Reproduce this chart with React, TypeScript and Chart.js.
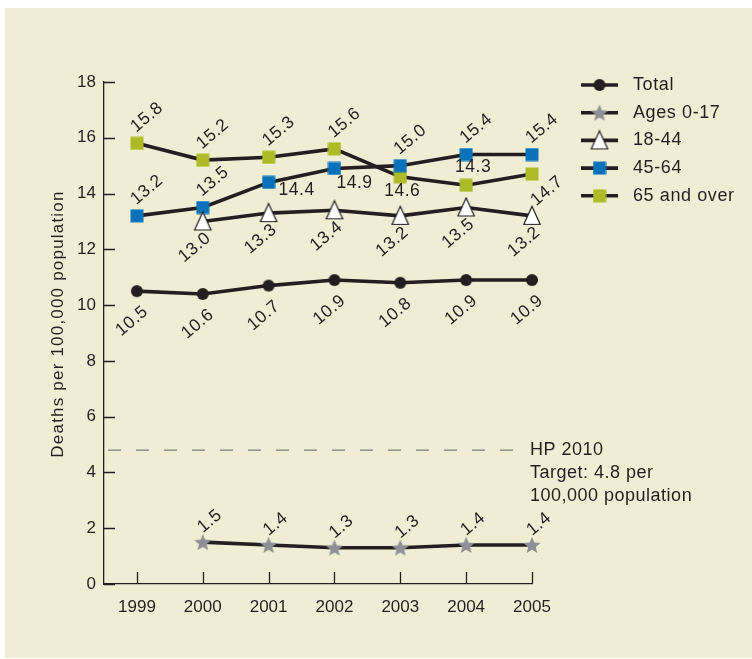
import React, { useEffect, useRef } from 'react';
import { Chart, registerables } from 'chart.js';

Chart.register(...registerables);

// ---------- data ----------
const YEARS = [1999, 2000, 2001, 2002, 2003, 2004, 2005];
const TOTAL = [10.5, 10.4, 10.7, 10.9, 10.8, 10.9, 10.9];
const TOTAL_LABELS = ['10.5', '10.6', '10.7', '10.9', '10.8', '10.9', '10.9'];
const AGES_0_17 = [null, 1.5, 1.4, 1.3, 1.3, 1.4, 1.4];
const AGES_18_44 = [null, 13.0, 13.3, 13.4, 13.2, 13.5, 13.2];
const AGES_45_64 = [13.2, 13.5, 14.4, 14.9, 15.0, 15.4, 15.4];
const AGES_65_OVER = [15.8, 15.2, 15.3, 15.6, 14.6, 14.3, 14.7];
const SERIES_NAMES = ['Total', 'Ages 0-17', '18-44', '45-64', '65 and over'];
const Y_TICKS = [0, 2, 4, 6, 8, 10, 12, 14, 16, 18];
const HP_TARGET = 4.8;
const HP_TEXT = ['HP 2010', 'Target: 4.8 per', '100,000 population'];
const Y_TITLE = 'Deaths per 100,000 population';

// ---------- styles ----------
const INK = '#231f20';
const BLUE = '#0a72ba';
const GREEN = '#acbb27';
const STAR_GRAY = '#8e9095';
const PANEL = '#efeed5';
const FONT = '"Liberation Sans", Arial, Helvetica, sans-serif';

function makeCanvas(w: number, h: number, draw: (c: CanvasRenderingContext2D) => void) {
  const c = document.createElement('canvas');
  c.width = w;
  c.height = h;
  const ctx = c.getContext('2d')!;
  draw(ctx);
  return c;
}

const circleImg = makeCanvas(14, 14, (c) => {
  c.fillStyle = INK;
  c.beginPath();
  c.arc(7, 7, 6, 0, Math.PI * 2);
  c.fill();
});
const starImg = makeCanvas(20, 20, (c) => {
  c.fillStyle = STAR_GRAY;
  c.beginPath();
  for (let i = 0; i < 10; i++) {
    const r = i % 2 === 0 ? 9 : 4;
    const a = -Math.PI / 2 + (i * Math.PI) / 5;
    const x = 10 + r * Math.cos(a);
    const y = 10.8 + r * Math.sin(a);
    if (i === 0) c.moveTo(x, y);
    else c.lineTo(x, y);
  }
  c.closePath();
  c.fill();
});
const triImg = makeCanvas(20, 22, (c) => {
  c.fillStyle = '#ffffff';
  c.strokeStyle = INK;
  c.lineWidth = 1.2;
  c.beginPath();
  c.moveTo(10, 1.5);
  c.lineTo(18.2, 19.5);
  c.lineTo(1.8, 19.5);
  c.closePath();
  c.fill();
  c.stroke();
});
const blueImg = makeCanvas(14, 14, (c) => {
  c.fillStyle = BLUE;
  c.fillRect(0.5, 0.5, 13, 13);
});
const greenImg = makeCanvas(14, 14, (c) => {
  c.fillStyle = GREEN;
  c.fillRect(0.5, 0.5, 13, 13);
});
const MARKERS = [circleImg, starImg, triImg, blueImg, greenImg];

// label placement per series: [dx, dy, rotated]
type Place = [number, number, boolean];
const ABOVE: Place = [10, -26, true];
const BELOW_TOTAL: Place = [-5, 30, true];
const BELOW_TRI: Place = [-8, 26, true];
const ABOVE_STAR: Place = [7, -21, true];
const LABEL_PLACES: Place[][] = [
  YEARS.map(() => BELOW_TOTAL),
  YEARS.map(() => ABOVE_STAR),
  YEARS.map(() => BELOW_TRI),
  [ABOVE, ABOVE, [28, 8, false], [20, 15, false], ABOVE, ABOVE, ABOVE],
  [ABOVE, ABOVE, ABOVE, ABOVE, [2, 14, false], [7, -18, false], [15, 17, true]],
];

const fmt = (arr: (number | null)[]) => arr.map((v) => (v == null ? '' : v.toFixed(1)));
const SERIES_VALUES = [TOTAL, AGES_0_17, AGES_18_44, AGES_45_64, AGES_65_OVER];
const SERIES_LABELS = [TOTAL_LABELS, fmt(AGES_0_17), fmt(AGES_18_44), fmt(AGES_45_64), fmt(AGES_65_OVER)];

const ROT = (-40 * Math.PI) / 180;

const decorPlugin = {
  id: 'decor',
  beforeDatasetsDraw(chart: any) {
    const ctx: CanvasRenderingContext2D = chart.ctx;
    const { left, right, bottom } = chart.chartArea;
    const xs = chart.scales.x;
    const ys = chart.scales.y;
    ctx.save();
    // inward ticks
    ctx.strokeStyle = INK;
    ctx.lineWidth = 1.3;
    ctx.beginPath();
    Y_TICKS.forEach((v) => {
      const y = Math.round(ys.getPixelForValue(v)) + 0.5;
      ctx.moveTo(left, y);
      ctx.lineTo(left + 11, y);
    });
    YEARS.forEach((v) => {
      const x = Math.round(xs.getPixelForValue(v)) + 0.5;
      ctx.moveTo(x, bottom);
      ctx.lineTo(x, bottom - 12);
    });
    ctx.stroke();
    // HP 2010 dashed target line
    const ty = ys.getPixelForValue(HP_TARGET);
    ctx.strokeStyle = '#7d7d7d';
    ctx.lineWidth = 1.2;
    ctx.setLineDash([13, 15]);
    ctx.beginPath();
    ctx.moveTo(left + 4, ty);
    ctx.lineTo(right - 8, ty);
    ctx.stroke();
    ctx.setLineDash([]);
    // HP text
    ctx.fillStyle = INK;
    ctx.font = `18px ${FONT}`;
    (ctx as any).letterSpacing = '0.5px';
    ctx.textAlign = 'left';
    ctx.textBaseline = 'middle';
    HP_TEXT.forEach((t, i) => ctx.fillText(t, right - 2, ty + i * 23));
    // y title
    ctx.font = `17px ${FONT}`;
    (ctx as any).letterSpacing = '1.2px';
    ctx.textAlign = 'center';
    ctx.translate(58, 324);
    ctx.rotate(-Math.PI / 2);
    ctx.fillText(Y_TITLE, 0, 0);
    ctx.restore();
  },
  afterDatasetsDraw(chart: any) {
    const ctx: CanvasRenderingContext2D = chart.ctx;
    ctx.save();
    ctx.fillStyle = INK;
    ctx.font = `17.5px ${FONT}`;
    (ctx as any).letterSpacing = '0.5px';
    ctx.textAlign = 'center';
    ctx.textBaseline = 'middle';
    SERIES_LABELS.forEach((labels, si) => {
      const meta = chart.getDatasetMeta(si);
      labels.forEach((txt, j) => {
        if (!txt) return;
        const el = meta.data[j];
        if (!el || el.skip) return;
        const [dx, dy, rot] = LABEL_PLACES[si][j];
        ctx.save();
        ctx.translate(el.x + dx, el.y + dy);
        if (rot) ctx.rotate(ROT);
        ctx.fillText(txt, 0, 0);
        ctx.restore();
      });
    });
    ctx.restore();

    // legend
    ctx.save();
    const lx0 = 581;
    const lx1 = 618;
    const tx = 633;
    ctx.font = `18px ${FONT}`;
    (ctx as any).letterSpacing = '0.6px';
    ctx.textAlign = 'left';
    ctx.textBaseline = 'middle';
    SERIES_NAMES.forEach((name, i) => {
      const y = 85 + i * 27.7;
      ctx.strokeStyle = INK;
      ctx.lineWidth = 3.6;
      ctx.beginPath();
      ctx.moveTo(lx0, y);
      ctx.lineTo(lx1, y);
      ctx.stroke();
      const img = MARKERS[i];
      ctx.drawImage(img, (lx0 + lx1) / 2 - img.width / 2, y - img.height / 2);
      ctx.fillStyle = INK;
      ctx.fillText(name, tx, y);
    });
    ctx.restore();
  },
};

export default function App() {
  const ref = useRef<HTMLCanvasElement | null>(null);

  useEffect(() => {
    if (!ref.current) return;
    const datasets = SERIES_VALUES.map((vals, i) => ({
      label: SERIES_NAMES[i],
      data: YEARS.map((yr, j) => ({ x: yr, y: vals[j] })),
      borderColor: INK,
      borderWidth: 3.6,
      backgroundColor: INK,
      pointStyle: MARKERS[i] as any,
      pointRadius: 7,
      pointHoverRadius: 7,
      tension: 0,
      clip: false as any,
      spanGaps: false,
    }));
    const chart = new Chart(ref.current, {
      type: 'line',
      data: { datasets },
      options: {
        animation: false,
        responsive: false,
        devicePixelRatio: 1,
        layout: { padding: { left: 45, top: 82, right: 220, bottom: 0 } },
        plugins: { legend: { display: false }, tooltip: { enabled: false } },
        scales: {
          x: {
            type: 'linear',
            min: 1998.5,
            max: 2005,
            grid: { display: false, drawTicks: false },
            border: { display: true, color: INK, width: 1.3 },
            afterBuildTicks: (s: any) => {
              s.ticks = YEARS.map((v) => ({ value: v }));
            },
            afterFit: (s: any) => {
              s.height = 75;
            },
            ticks: {
              padding: 13,
              color: INK,
              font: { family: FONT, size: 17 },
              callback: (v: any) => String(v),
              maxRotation: 0,
              autoSkip: false,
            },
          },
          y: {
            min: 0,
            max: 18,
            grid: { display: false, drawTicks: false },
            border: { display: true, color: INK, width: 1.3 },
            afterBuildTicks: (s: any) => {
              s.ticks = Y_TICKS.map((v) => ({ value: v }));
            },
            afterFit: (s: any) => {
              s.width = 59;
            },
            ticks: {
              padding: 8,
              color: INK,
              font: { family: FONT, size: 17 },
            },
          },
        },
      },
      plugins: [decorPlugin],
    });
    return () => chart.destroy();
  }, []);

  return (
    <div style={{ position: 'absolute', left: 0, top: 0, width: 752, height: 659, background: '#ffffff' }}>
      <div style={{ position: 'absolute', left: 5, top: 8, width: 747, height: 650, background: PANEL }} />
      <canvas ref={ref} width={752} height={659} style={{ position: 'absolute', left: 0, top: 0, width: 752, height: 659 }} />
    </div>
  );
}
